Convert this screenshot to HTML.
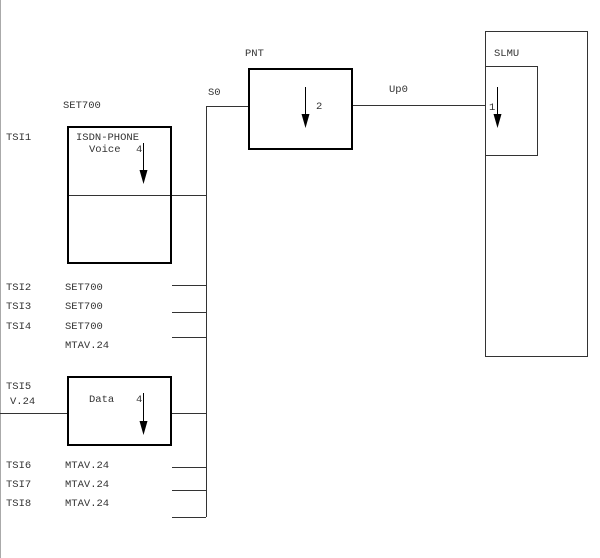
<!DOCTYPE html>
<html><head><style>body{margin:0;background:#fff}svg{display:block}text{font-family:"Liberation Mono",monospace;font-size:10.5px;fill:#333}</style></head><body>
<svg width="600" height="558" viewBox="0 0 600 558">
<line x1="0.5" y1="0" x2="0.5" y2="558" stroke="#aaa"/>
<g stroke="#333" stroke-width="1" fill="none">
<line x1="206.5" y1="106" x2="206.5" y2="517"/>
<line x1="206" y1="106.5" x2="248" y2="106.5"/>
<line x1="352" y1="105.5" x2="486" y2="105.5"/>
<rect x="485.5" y="31.5" width="102" height="325"/>
<rect x="485.5" y="66.5" width="52" height="89"/>
<line x1="171" y1="195.5" x2="206" y2="195.5"/>
<line x1="67" y1="195.5" x2="171" y2="195.5"/>
<line x1="172" y1="285.5" x2="206" y2="285.5"/>
<line x1="172" y1="312.5" x2="206" y2="312.5"/>
<line x1="172" y1="337.5" x2="206" y2="337.5"/>
<line x1="0" y1="413.5" x2="67" y2="413.5"/>
<line x1="171" y1="413.5" x2="206" y2="413.5"/>
<line x1="172" y1="467.5" x2="206" y2="467.5"/>
<line x1="172" y1="490.5" x2="206" y2="490.5"/>
<line x1="172" y1="517.5" x2="206" y2="517.5"/>
</g>
<g stroke="#000" stroke-width="2" fill="none">
<rect x="249" y="69" width="103" height="80"/>
<rect x="68" y="127" width="103" height="136"/>
<rect x="68" y="377" width="103" height="68"/>
</g>
<g stroke="#000" stroke-width="1">
<line x1="305.5" y1="87" x2="305.5" y2="118"/>
<line x1="497.5" y1="87" x2="497.5" y2="118"/>
<line x1="143.5" y1="143" x2="143.5" y2="174"/>
<line x1="143.5" y1="393" x2="143.5" y2="425"/>
</g>
<g fill="#000">
<polygon points="301.5,114 309.5,114 305.5,128"/>
<polygon points="493.5,114 501.5,114 497.5,128"/>
<polygon points="139.5,170 147.5,170 143.5,184"/>
<polygon points="139.5,421 147.5,421 143.5,435"/>
</g>
<text x="245" y="56">PNT</text>
<text x="208" y="95">S0</text>
<text x="316" y="109">2</text>
<text x="389" y="92">Up0</text>
<text x="494" y="56">SLMU</text>
<text x="489" y="110">1</text>
<text x="63" y="108">SET700</text>
<text x="6" y="140">TSI1</text>
<text x="76" y="140">ISDN-PHONE</text>
<text x="89" y="152">Voice</text>
<text x="136" y="152">4</text>
<text x="6" y="290">TSI2</text><text x="65" y="290">SET700</text>
<text x="6" y="309">TSI3</text><text x="65" y="309">SET700</text>
<text x="6" y="329">TSI4</text><text x="65" y="329">SET700</text>
<text x="65" y="348">MTAV.24</text>
<text x="6" y="389">TSI5</text>
<text x="10" y="404">V.24</text>
<text x="89" y="402">Data</text>
<text x="136" y="402">4</text>
<text x="6" y="468">TSI6</text><text x="65" y="468">MTAV.24</text>
<text x="6" y="487">TSI7</text><text x="65" y="487">MTAV.24</text>
<text x="6" y="506">TSI8</text><text x="65" y="506">MTAV.24</text>
</svg>
</body></html>
